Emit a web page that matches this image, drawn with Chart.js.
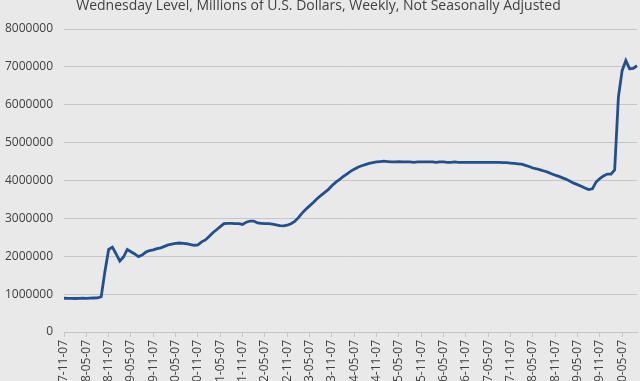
<!DOCTYPE html>
<html><head><meta charset="utf-8">
<script src="https://cdn.jsdelivr.net/npm/chart.js@4"></script>
<style>
html,body{margin:0;padding:0;background:#e9e9e9;overflow:hidden;width:640px;height:381px;}
#wrap{position:absolute;left:0;top:-4px;width:640px;height:406px;}
</style></head><body>
<div id="wrap"><canvas id="c" width="640" height="406"></canvas></div>
<script>
const chartTitle = 'Wednesday Level, Millions of U.S. Dollars, Weekly, Not Seasonally Adjusted';

const tickLabels = ['2007-11-07','2008-05-07','2008-11-07','2009-05-07','2009-11-07','2010-05-07',
  '2010-11-07','2011-05-07','2011-11-07','2012-05-07','2012-11-07','2013-05-07','2013-11-07',
  '2014-05-07','2014-11-07','2015-05-07','2015-11-07','2016-05-07','2016-11-07','2017-05-07',
  '2017-11-07','2018-05-07','2018-11-07','2019-05-07','2019-11-07','2020-05-07'];

const yTicks = [0,1000000,2000000,3000000,4000000,5000000,6000000,7000000,8000000];

// monthly readings, Nov 2007 .. Sep 2020 (millions of U.S. dollars)
const assets = [
  891000, 890000,
  890000, 885000, 890000, 892000, 888000, 893000, 898000, 902000, 930000, 1600000, 2180000, 2240000,
  2060000, 1870000, 1980000, 2180000, 2120000, 2060000, 1990000, 2030000, 2110000, 2150000, 2170000, 2200000,
  2220000, 2260000, 2300000, 2320000, 2340000, 2350000, 2340000, 2330000, 2310000, 2290000, 2300000, 2380000,
  2430000, 2520000, 2620000, 2700000, 2780000, 2860000, 2870000, 2870000, 2860000, 2860000, 2840000, 2900000,
  2930000, 2930000, 2880000, 2870000, 2860000, 2860000, 2850000, 2830000, 2810000, 2800000, 2820000, 2860000,
  2920000, 3020000, 3140000, 3240000, 3330000, 3420000, 3520000, 3600000, 3680000, 3760000, 3860000, 3950000,
  4020000, 4100000, 4170000, 4240000, 4300000, 4350000, 4390000, 4420000, 4450000, 4470000, 4490000, 4500000,
  4510000, 4500000, 4490000, 4490000, 4500000, 4490000, 4490000, 4490000, 4480000, 4490000, 4490000, 4490000,
  4490000, 4490000, 4480000, 4490000, 4490000, 4480000, 4480000, 4490000, 4480000, 4480000, 4480000, 4480000,
  4480000, 4480000, 4480000, 4480000, 4480000, 4480000, 4480000, 4480000, 4470000, 4470000, 4460000, 4450000,
  4440000, 4430000, 4400000, 4370000, 4330000, 4310000, 4280000, 4250000, 4220000, 4180000, 4140000, 4110000,
  4070000, 4030000, 3980000, 3930000, 3890000, 3850000, 3800000, 3760000, 3780000, 3960000, 4050000, 4120000,
  4170000, 4170000, 4280000, 6200000, 6900000, 7170000, 6950000, 6960000, 7030000
];

const categories = assets.map((v, i) => (i % 6 === 0 && tickLabels[i / 6]) ? tickLabels[i / 6] : '');

const FONT = "'Open Sans', sans-serif";
const TEXT = '#404040';
const GRID = '#c6c6c6';

new Chart(document.getElementById('c'), {
  type: 'line',
  data: {
    labels: categories,
    datasets: [{
      data: assets,
      borderColor: '#22508f',
      borderWidth: 2.8,
      pointRadius: 0,
      tension: 0,
      fill: false
    }]
  },
  options: {
    responsive: false,
    animation: false,
    events: [],
    layout: { padding: { left: 0, right: 3, top: 0, bottom: 0 } },
    plugins: {
      legend: { display: false },
      tooltip: { enabled: false },
      title: {
        display: true,
        text: chartTitle,
        color: TEXT,
        font: { family: FONT, size: 14, weight: 'normal' },
        padding: { top: 2, bottom: 14.2 }
      }
    },
    scales: {
      x: {
        type: 'category',
        offset: false,
        afterFit: (s) => { s.height = 70; s.paddingLeft = 0; s.paddingRight = 0; },
        grid: {
          drawOnChartArea: false,
          drawTicks: true,
          tickLength: 5,
          color: (ctx) => (ctx.index % 6 === 0 ? GRID : 'rgba(0,0,0,0)')
        },
        border: { display: true, color: GRID },
        ticks: {
          autoSkip: false,
          maxRotation: 90,
          minRotation: 90,
          padding: 3,
          color: TEXT,
          font: { family: FONT, size: 12 }
        }
      },
      y: {
        min: 0,
        max: 8000000,
        afterBuildTicks: (s) => { s.ticks = yTicks.map(v => ({ value: v })); },
        afterFit: (s) => { s.width = 64; },
        grid: { color: GRID, drawTicks: false, lineWidth: 1 },
        border: { display: false },
        ticks: {
          padding: 11,
          color: TEXT,
          font: { family: FONT, size: 12 },
          callback: (v) => String(v)
        }
      }
    }
  }
});
</script>
</body></html>
